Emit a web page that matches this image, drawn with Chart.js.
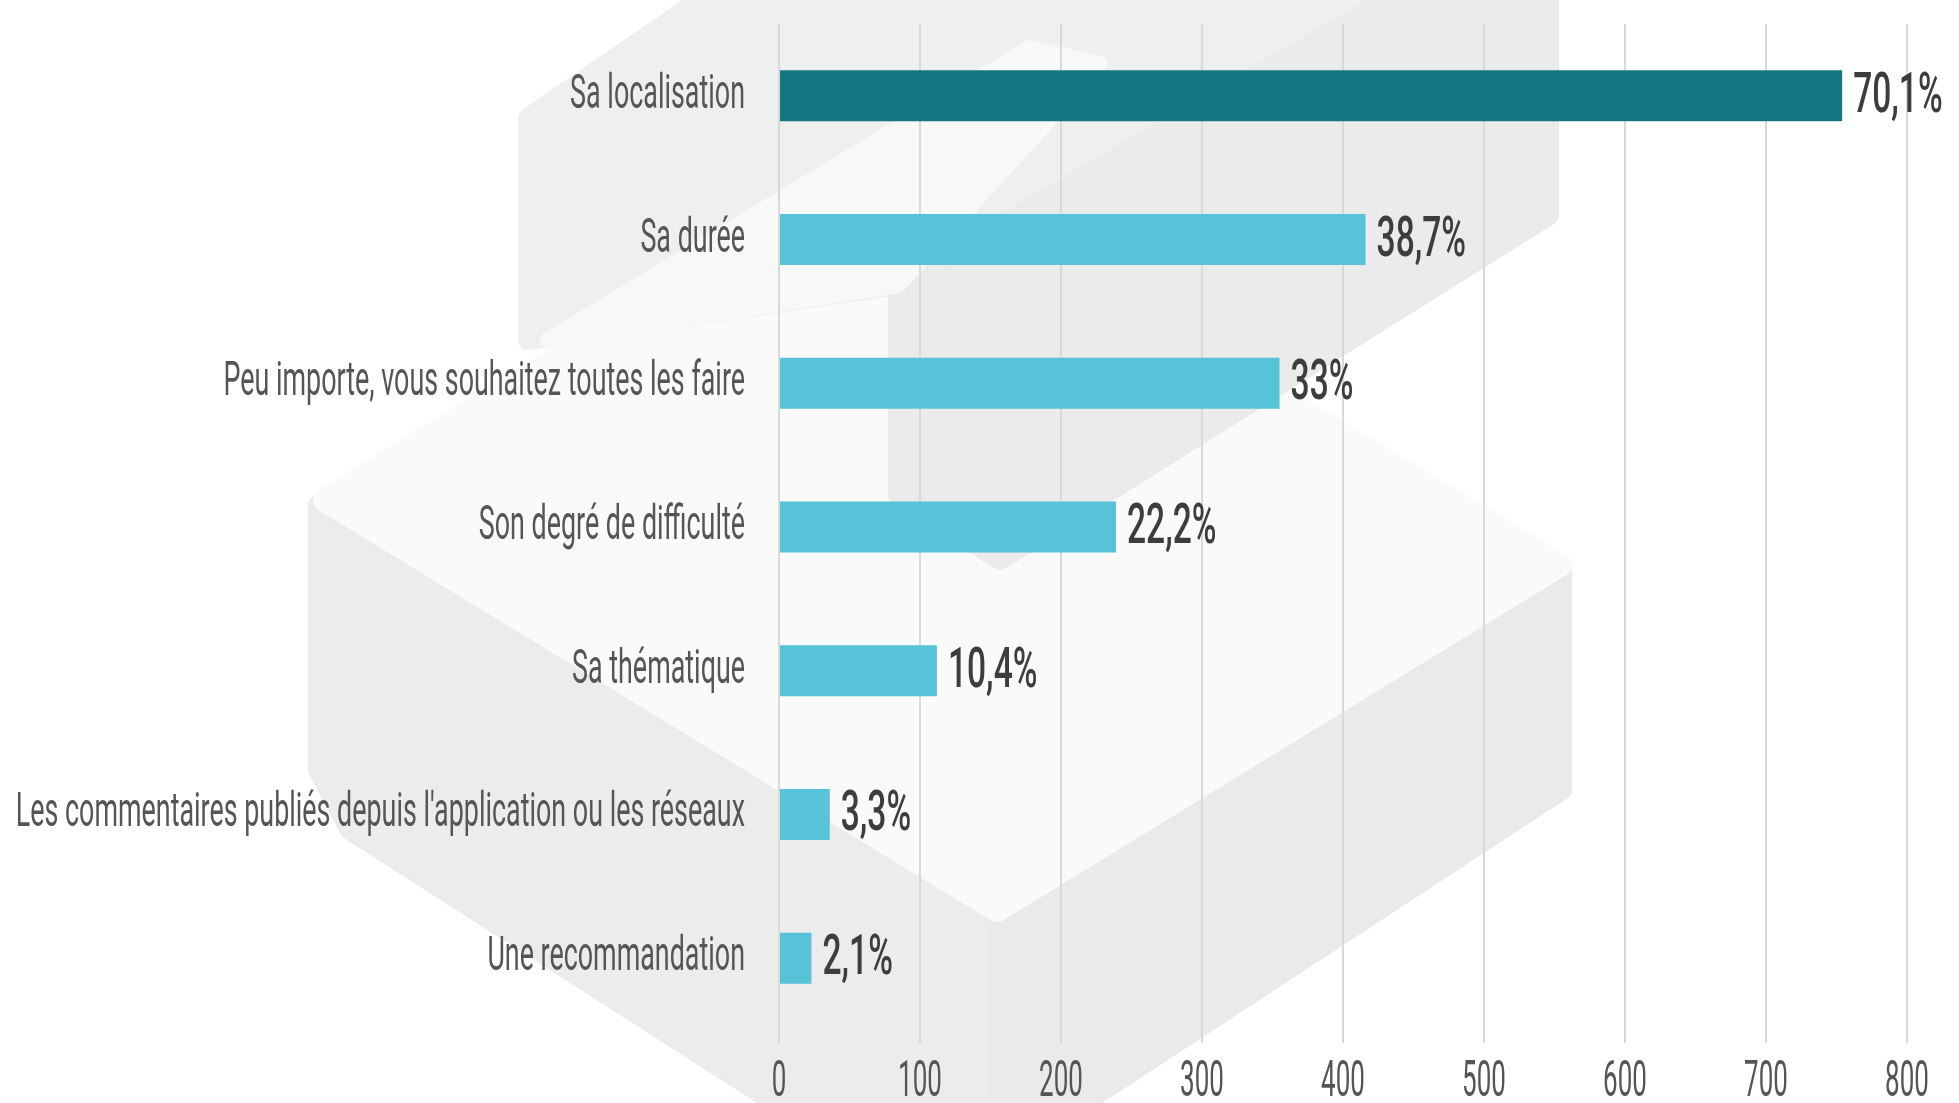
<!DOCTYPE html>
<html lang="fr">
<head>
<meta charset="utf-8">
<title>Critères de choix d'une randonnée</title>
<script src="https://cdn.jsdelivr.net/npm/chart.js@4.4.1/dist/chart.umd.min.js"></script>
<style>
  html, body { margin: 0; padding: 0; background: #ffffff; }
  #wrap { width: 1959px; height: 1103px; position: relative; }
</style>
</head>
<body>
<div id="wrap"><canvas id="criteres"></canvas></div>
<script>
const categories = [
  'Sa localisation',
  'Sa durée',
  'Peu importe, vous souhaitez toutes les faire',
  'Son degré de difficulté',
  'Sa thématique',
  "Les commentaires publiés depuis l'application ou les réseaux",
  'Une recommandation'
];
const responses = [754, 416, 355, 239, 112, 36, 23];
const totalRespondents = 1076;
const xTicksMax = 800;
const xTicksStep = 100;

const barColors = responses.map((v, i) => i === 0 ? '#127782' : '#57c2d8');

// "70,1%" style labels, built from the same counts as the bars
function shareLabel(v) {
  let s = (v / totalRespondents * 100).toFixed(1);
  if (s.endsWith('.0')) s = s.slice(0, -2);
  return s.replace('.', ',') + '%';
}

// condensed text: canvas has no narrow font installed, so squeeze horizontally
function narrowText(ctx, text, x, y, align, squeeze) {
  ctx.save();
  ctx.translate(x, y);
  ctx.scale(squeeze, 1);
  ctx.textAlign = align;
  ctx.textBaseline = 'middle';
  ctx.fillText(text, 0, 0);
  ctx.restore();
}

function shape(ctx, pts, color, round) {
  ctx.beginPath();
  ctx.moveTo(pts[0][0], pts[0][1]);
  for (let i = 1; i < pts.length; i++) ctx.lineTo(pts[i][0], pts[i][1]);
  ctx.closePath();
  ctx.fillStyle = color;
  ctx.fill();
  if (round) {
    ctx.lineJoin = 'round';
    ctx.lineWidth = round;
    ctx.strokeStyle = color;
    ctx.stroke();
  }
}

// faint logo in the background
const watermark = {
  id: 'watermark',
  beforeDraw(chart) {
    const ctx = chart.ctx;
    ctx.save();
    ctx.fillStyle = '#ffffff';
    ctx.fillRect(0, 0, chart.width, chart.height);

    // lower block
    shape(ctx, [[318, 505], [997, 914], [997, 1245], [350, 830], [318, 770]], '#ececec', 20);
    shape(ctx, [[997, 914], [1562, 565], [1562, 790], [997, 1160]], '#eaeaea', 20);
    shape(ctx, [[325, 500], [882, 160], [1560, 565], [997, 910]], '#fafafa', 24);

    // upper block
    shape(ctx, [[528, 340], [528, 118], [700, 0], [1549, 0], [1549, 215], [1000, 560], [898, 495], [898, 285]], '#efefef', 20);
    shape(ctx, [[898, 285], [1549, -95], [1549, 215], [1000, 560], [898, 495]], '#ebebeb', 20);
    shape(ctx, [[548, 340], [1030, 48], [1100, 64], [898, 285]], '#f8f8f8', 16);
    ctx.restore();
  }
};

// category names, axis values and percentages
const textLayer = {
  id: 'textLayer',
  afterDatasetsDraw(chart) {
    const ctx = chart.ctx;
    const xs = chart.scales.x;
    const ys = chart.scales.y;
    ctx.save();

    ctx.fillStyle = '#555555';
    ctx.font = '400 48px Roboto';
    categories.forEach((c, i) => {
      narrowText(ctx, c, xs.left - 34, ys.getPixelForTick(i), 'right', 0.56);
    });

    ctx.font = '400 50px Roboto';
    xs.ticks.forEach((t, i) => {
      narrowText(ctx, String(t.value), xs.getPixelForTick(i), chart.chartArea.bottom + 53, 'center', 0.52);
    });

    ctx.fillStyle = '#3d3d3d';
    ctx.font = '500 56px Roboto';
    const meta = chart.getDatasetMeta(0);
    meta.data.forEach((bar, i) => {
      narrowText(ctx, shareLabel(responses[i]), bar.x + 11, bar.y + 2, 'left', 0.6);
    });
    ctx.restore();
  }
};

const ctx = document.getElementById('criteres').getContext('2d');

const chart = new Chart(ctx, {
  type: 'bar',
  data: {
    labels: categories,
    datasets: [{
      data: responses,
      backgroundColor: barColors,
      borderWidth: 0,
      categoryPercentage: 1,
      barPercentage: 0.355
    }]
  },
  options: {
    indexAxis: 'y',
    responsive: true,
    maintainAspectRatio: false,
    animation: false,
    layout: {
      padding: { top: 24, right: 52, left: 0, bottom: 0 }
    },
    plugins: {
      legend: { display: false },
      tooltip: { enabled: false }
    },
    scales: {
      x: {
        min: 0,
        max: xTicksMax,
        border: { display: false },
        grid: {
          color: '#d9d9d9',
          lineWidth: 2,
          drawTicks: true,
          tickLength: 13
        },
        ticks: { display: false, stepSize: xTicksStep },
        afterFit(axis) { axis.height = 73; }
      },
      y: {
        border: { display: false },
        grid: { display: false },
        ticks: { display: false },
        afterFit(axis) { axis.width = 779; }
      }
    }
  },
  plugins: [watermark, textLayer]
});
</script>
</body>
</html>
